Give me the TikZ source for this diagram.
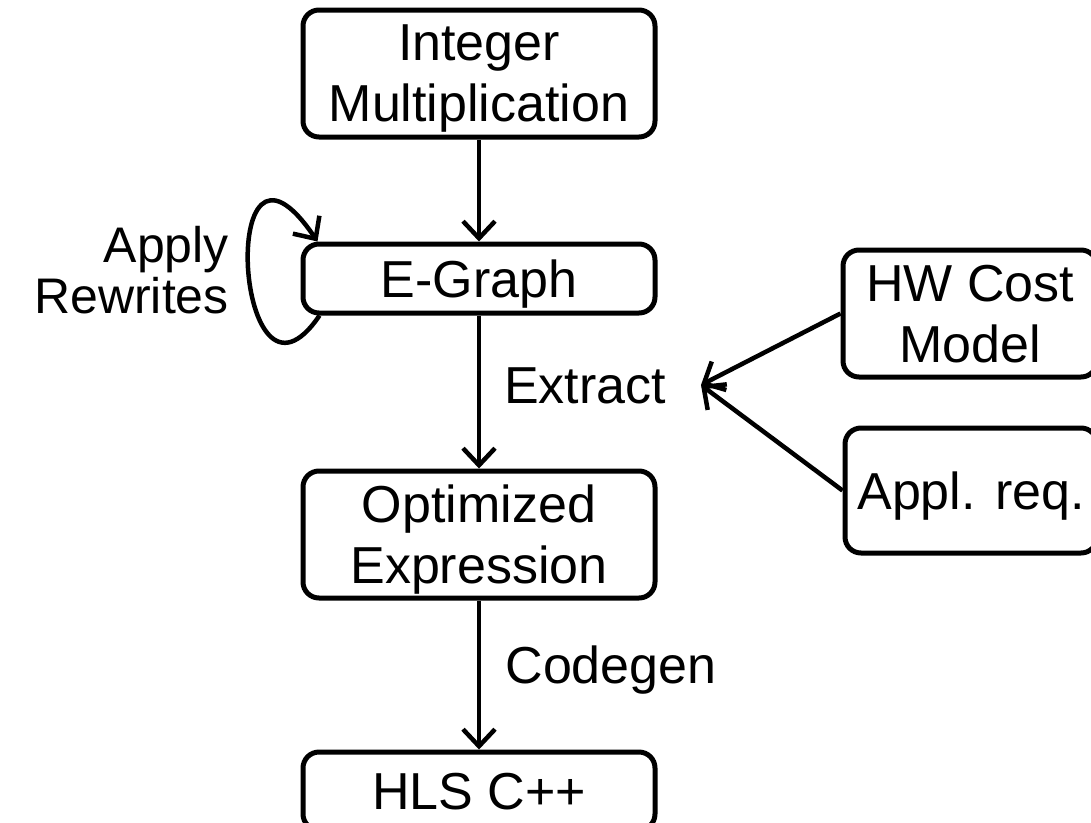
\documentclass[tikz,border=0pt]{standalone}
\usepackage{fontspec}
\setmainfont{Liberation Sans}
\usetikzlibrary{arrows.meta}
\begin{document}
\begin{tikzpicture}[x=1pt,y=-1pt,
  box/.style={draw, line width=5pt, rounded corners=16pt, inner sep=0pt,
    align=center, text depth=0pt, font=\fontsize{52}{61}\selectfont},
  lbl/.style={inner sep=0pt, align=center, font=\fontsize{52}{58}\selectfont},
  arr/.style={line width=4.5pt, -{Straight Barb[length=17pt,width=32pt,line width=4.5pt]}}]
\useasboundingbox (0,0) rectangle (1091,822);
% main pipeline
\node[box, minimum width=352pt, minimum height=127pt] (im) at (479,73.5) {Integer\\Multiplication};
\node[box, minimum width=352pt, minimum height=69pt] (eg) at (479,278.5) {E-Graph};
\node[box, minimum width=352pt, minimum height=127pt] (oe) at (479,534.5) {Optimized\\Expression};
\node[box, minimum width=352pt, minimum height=78pt] (hls) at (479,791) {HLS C++};
% extraction inputs
\node[box, minimum width=254pt, minimum height=127pt] (hw) at (970,313.5) {HW Cost\\Model};
\node[box, minimum width=252pt, minimum height=125pt] (ar) at (971,490.5) {Appl. req.};
% labels
\node[lbl, anchor=base] (ext) at (585,403) {Extract};
\node[lbl, anchor=base] (cg) at (611,683) {Codegen};
\node[lbl, anchor=east, align=right, font=\fontsize{50}{51}\selectfont] (rw) at (229,270) {Apply\\Rewrites};
\coordinate (tip) at (701,385);
% connectors
\draw[arr] (im) -- (eg);
\draw[arr] (eg) -- (oe);
\draw[arr] (oe) -- (hls);
\draw[arr] (hw.west) -- (tip);
\draw[arr] (ar.west) -- (tip);
\draw[arr] ([xshift=19pt]eg.south west) .. controls (235,440) and (215,90) .. ([xshift=17pt]eg.north west);
\end{tikzpicture}
\end{document}
